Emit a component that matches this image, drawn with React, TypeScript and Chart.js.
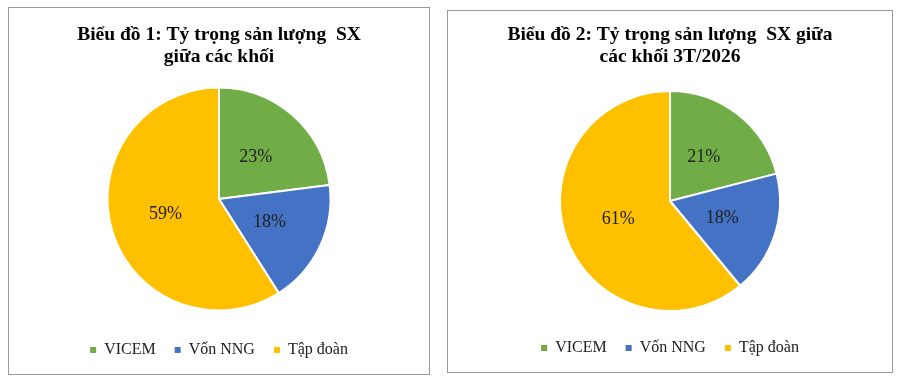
import React, { useEffect, useRef } from "react";
import { Chart, registerables } from "chart.js";

Chart.register(...registerables);

const categories = ["VICEM", "Vốn NNG", "Tập đoàn"];
const chart1Values = [23, 18, 59];
const chart2Values = [21, 18, 61];
const chart1Title = ["Biểu đồ 1: Tỷ trọng sản lượng  SX", "giữa các khối"];
const chart2Title = ["Biểu đồ 2: Tỷ trọng sản lượng  SX giữa", "các khối 3T/2026"];
const sliceColors = ["#70AD47", "#4472C4", "#FFC000"];

const FONT = "'Liberation Serif', 'Times New Roman', serif";

const pctLabels = {
  id: "pctLabels",
  afterDatasetsDraw(chart: any) {
    const ctx = chart.ctx;
    const vals = chart.data.datasets[0].data as number[];
    const total = vals.reduce((a, b) => a + b, 0);
    chart.getDatasetMeta(0).data.forEach((arc: any, i: number) => {
      const p = arc.getCenterPoint();
      ctx.save();
      ctx.font = `18px ${FONT}`;
      ctx.fillStyle = "#202020";
      ctx.textAlign = "center";
      ctx.textBaseline = "middle";
      ctx.fillText(Math.round((vals[i] / total) * 100) + "%", p.x, p.y);
      ctx.restore();
    });
  },
};

type BoxProps = {
  left: number;
  top: number;
  width: number;
  height: number;
  title: string[];
  values: number[];
  titleTop: number;
  titleBottom: number;
  legendGap: number;
  layoutBottom: number;
};

function PieBox(props: BoxProps) {
  const ref = useRef<HTMLCanvasElement | null>(null);
  const cw = props.width - 2;
  const ch = props.height - 2;

  useEffect(() => {
    if (!ref.current) return;
    const defaultGen = (Chart as any).overrides.pie.plugins.legend.labels.generateLabels;
    const chart = new Chart(ref.current, {
      type: "pie",
      data: {
        labels: categories,
        datasets: [
          {
            data: props.values,
            backgroundColor: sliceColors,
            borderColor: "#ffffff",
            borderWidth: 2,
          },
        ],
      },
      options: {
        responsive: false,
        animation: false,
        devicePixelRatio: 1,
        layout: { padding: { top: 0, left: 0, right: 0, bottom: props.layoutBottom } },
        plugins: {
          title: {
            display: true,
            text: props.title,
            color: "#000000",
            font: { family: FONT, size: 19.5, weight: "bold", lineHeight: 22 / 19.5 },
            padding: { top: props.titleTop, bottom: props.titleBottom },
          },
          legend: {
            position: "bottom",
            labels: {
              boxWidth: 6,
              boxHeight: 6,
              padding: 19,
              color: "#202020",
              font: { family: FONT, size: 16 },
              generateLabels: (c: any) =>
                defaultGen(c).map((it: any) => ({ ...it, lineWidth: 0, strokeStyle: it.fillStyle })),
            },
            title: {
              display: true,
              text: "",
              font: { size: 1, lineHeight: 1 },
              padding: { top: props.legendGap - 1, bottom: 0 },
            },
          },
          tooltip: { enabled: false },
        },
      } as any,
      plugins: [pctLabels],
    });
    return () => chart.destroy();
  }, []);

  return (
    <div
      style={{
        position: "absolute",
        left: props.left,
        top: props.top,
        width: props.width,
        height: props.height,
        boxSizing: "border-box",
        border: "1px solid #999999",
        background: "#ffffff",
      }}
    >
      <canvas ref={ref} width={cw} height={ch} style={{ display: "block", width: cw, height: ch }} />
    </div>
  );
}

export default function App() {
  return (
    <div>
      <PieBox
        left={8}
        top={7}
        width={422}
        height={368}
        title={chart1Title}
        values={chart1Values}
        titleTop={16}
        titleBottom={18.5}
        legendGap={11.5}
        layoutBottom={6}
      />
      <PieBox
        left={447}
        top={10}
        width={446}
        height={363}
        title={chart2Title}
        values={chart2Values}
        titleTop={13}
        titleBottom={22}
        legendGap={9}
        layoutBottom={6}
      />
    </div>
  );
}
